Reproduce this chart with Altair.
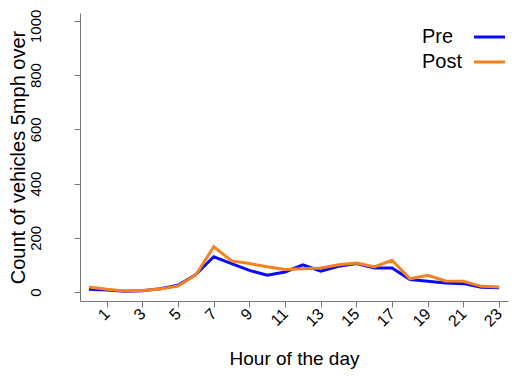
import altair as alt
import pandas as pd

hours = list(range(24))
pre = [10, 8, 3, 5, 12, 25, 65, 130, 105, 80, 62, 74, 100, 77, 95, 105, 89, 89, 46, 40, 33, 31, 18, 16]
post = [19, 10, 4, 6, 11, 22, 64, 167, 115, 105, 93, 83, 86, 89, 101, 107, 93, 117, 49, 62, 41, 40, 21, 19]
series = ["Pre", "Post"]
colors = ["#0a0aff", "#f5821f"]
y_ticks = [0, 200, 400, 600, 800, 1000]
x_ticks = [1, 3, 5, 7, 9, 11, 13, 15, 17, 19, 21, 23]

df = pd.DataFrame({
    "hour": hours * 2,
    "count": pre + post,
    "series": ["Pre"] * 24 + ["Post"] * 24,
    "order": [0] * 24 + [1] * 24,
})

FONT = "Liberation Sans"

lines = alt.Chart(df).mark_line(strokeWidth=3).encode(
    x=alt.X("hour:Q",
            scale=alt.Scale(domain=[-0.5, 23.5], nice=False, zero=False),
            axis=alt.Axis(values=x_ticks, title="Hour of the day", labelAngle=315,
                          labelAlign="right", labelBaseline="middle", format="d",
                          labelPadding=4, titlePadding=20, grid=False, labelFontSize=16)),
    y=alt.Y("count:Q",
            scale=alt.Scale(domain=[-33, 1029], nice=False, zero=False),
            axis=alt.Axis(values=y_ticks, title="Count of vehicles 5mph over", format="d",
                          labelAngle=270, labelPadding=31, titlePadding=0, grid=False,
                          labelOffset={"condition": {"test": "datum.value === 1000", "value": 5}, "value": 0},
                          titleFontSize=20)),
    color=alt.Color("series:N", scale=alt.Scale(domain=series, range=colors), legend=None),
    detail="series:N",
    order="order:Q",
)

leg_pre_t = alt.Chart(pd.DataFrame({"t": ["Pre"]})).mark_text(
    align="left", baseline="middle", fontSize=20, font=FONT, color="black"
).encode(text="t:N", x=alt.value(342), y=alt.value(24))
leg_post_t = alt.Chart(pd.DataFrame({"t": ["Post"]})).mark_text(
    align="left", baseline="middle", fontSize=20, font=FONT, color="black"
).encode(text="t:N", x=alt.value(342), y=alt.value(49))
leg_pre_l = alt.Chart(pd.DataFrame({"t": ["Pre"]})).mark_rule(strokeWidth=3, color=colors[0]).encode(
    x=alt.value(394), x2=alt.value(425), y=alt.value(24))
leg_post_l = alt.Chart(pd.DataFrame({"t": ["Post"]})).mark_rule(strokeWidth=3, color=colors[1]).encode(
    x=alt.value(394), x2=alt.value(425), y=alt.value(49))

chart = alt.layer(lines, leg_pre_t, leg_post_t, leg_pre_l, leg_post_l).properties(
    width=428, height=288,
    autosize=alt.AutoSizeParams(type="none"),
    padding={"left": 72, "top": 5, "right": 1, "bottom": 70},
    background="white",
).configure_view(stroke=None).configure_axis(
    labelFont=FONT, titleFont=FONT, labelFontSize=15, titleFontSize=19,
    labelColor="black", titleColor="black", titleFontWeight="normal",
    domainColor="#777777", tickColor="#777777", tickSize=6, domainWidth=1,
)

chart.save("out.html", embed_options={"renderer": "svg", "actions": False})
